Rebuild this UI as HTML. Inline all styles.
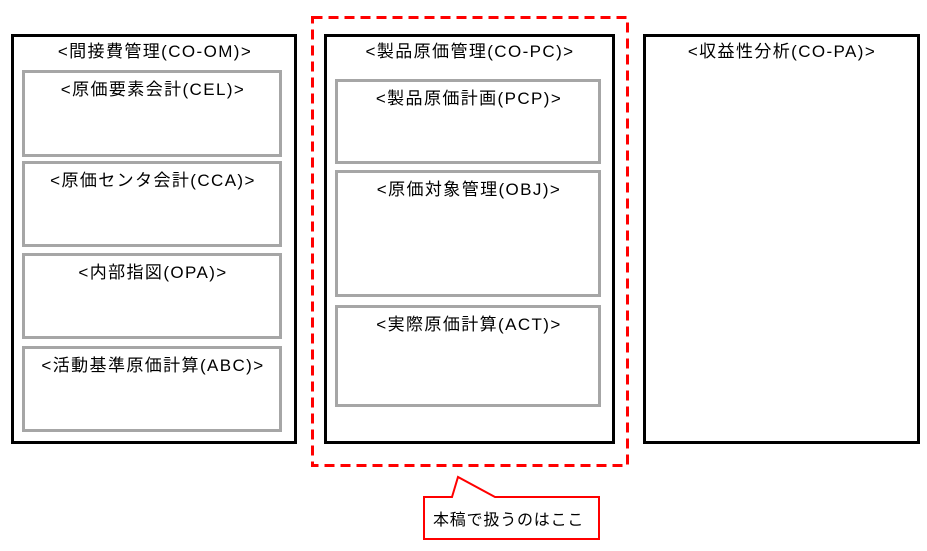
<!DOCTYPE html>
<html><head><meta charset="utf-8"><style>
html,body{margin:0;padding:0;background:#fff;}
svg text{font-family:"Liberation Sans","Noto Sans CJK JP",sans-serif;font-size:17px;letter-spacing:1.4px;fill:#000;}
svg text.c{font-size:16px;letter-spacing:0.8px;}
</style></head><body>
<svg width="927" height="546" xmlns="http://www.w3.org/2000/svg">
<rect width="927" height="546" fill="#fff"/>
<g fill="none" stroke="#000" stroke-width="3">
<rect x="12.5" y="35.5" width="283" height="407"/>
<rect x="325.5" y="35.5" width="288" height="407"/>
<rect x="644.5" y="35.5" width="274" height="407"/>
</g>
<g fill="none" stroke="#a6a6a6" stroke-width="3">
<rect x="23.5" y="71.5" width="257" height="84"/>
<rect x="23.5" y="162.5" width="257" height="83"/>
<rect x="23.5" y="254.5" width="257" height="83"/>
<rect x="23.5" y="347.5" width="257" height="83"/>
<rect x="336.5" y="80.5" width="263" height="82"/>
<rect x="336.5" y="171.5" width="263" height="124"/>
<rect x="336.5" y="306.5" width="263" height="99"/>
</g>
<rect x="312.5" y="17.5" width="315" height="448" fill="none" stroke="#f00" stroke-width="3" stroke-dasharray="10,6"/>
<path d="M424 497 L452 497 L458 477 L495 497 L599 497 L599 539 L424 539 Z" fill="#fff" stroke="#f00" stroke-width="2"/>
<g text-anchor="middle">
<text x="155" y="57">&lt;間接費管理(CO-OM)&gt;</text>
<text x="153" y="95">&lt;原価要素会計(CEL)&gt;</text>
<text x="153" y="186">&lt;原価センタ会計(CCA)&gt;</text>
<text x="153" y="278">&lt;内部指図(OPA)&gt;</text>
<text x="153" y="371">&lt;活動基準原価計算(ABC)&gt;</text>
<text x="470" y="57">&lt;製品原価管理(CO-PC)&gt;</text>
<text x="469" y="104">&lt;製品原価計画(PCP)&gt;</text>
<text x="469" y="195">&lt;原価対象管理(OBJ)&gt;</text>
<text x="469" y="330">&lt;実際原価計算(ACT)&gt;</text>
<text x="782" y="57">&lt;収益性分析(CO-PA)&gt;</text>
</g>
<text class="c" x="433" y="525">本稿で扱うのはここ</text>
</svg>
</body></html>
